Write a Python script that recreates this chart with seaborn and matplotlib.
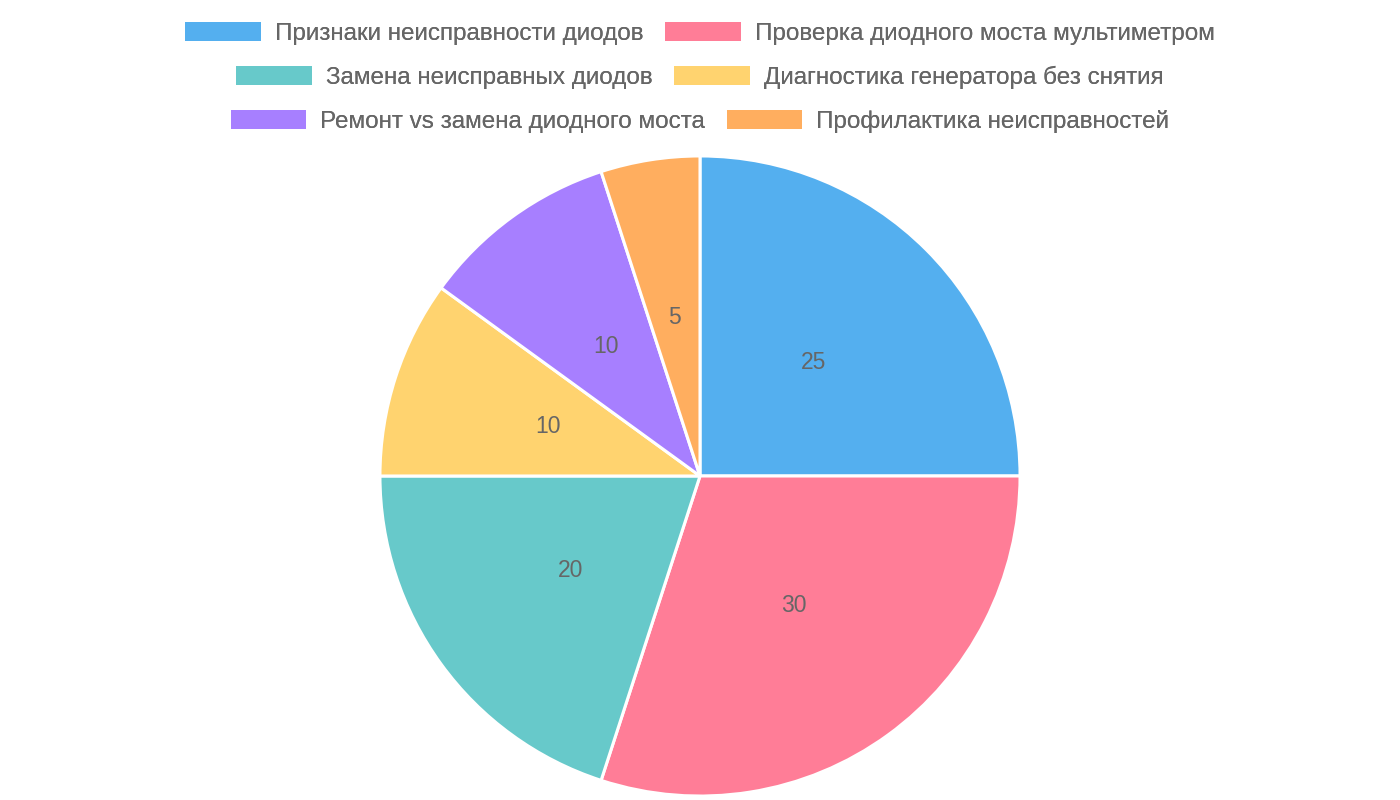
import seaborn as sns
import matplotlib.pyplot as plt
from matplotlib.patches import Patch

sns.set_theme(style="white")
plt.rcParams['font.family'] = ['Liberation Sans', 'DejaVu Sans']

labels = ['Признаки неисправности диодов', 'Проверка диодного моста мультиметром',
          'Замена неисправных диодов', 'Диагностика генератора без снятия',
          'Ремонт vs замена диодного моста', 'Профилактика неисправностей']
values = [25, 30, 20, 10, 10, 5]
colors = sns.color_palette(['#54AFEF', '#FF7D97', '#67C9CA', '#FFD36F', '#A77FFF', '#FFAE5F'])

fig = plt.figure(figsize=(14, 8), dpi=100)
ax = fig.add_axes([(700 - 321) / 1400, (800 - 797) / 800, 642 / 1400, 642 / 800])
wedges, texts = ax.pie(values, colors=colors, startangle=90, counterclock=False,
                       labels=[str(v) for v in values], labeldistance=0.5,
                       wedgeprops=dict(edgecolor='white', linewidth=2.2),
                       textprops=dict(color='#666666', fontsize=16.5))
for t in texts:
    t.set_horizontalalignment('center')
    t.set_verticalalignment('center')
ax.set_xlim(-1.003, 1.003)
ax.set_ylim(-1.003, 1.003)
ax.set_aspect('equal')

# Chart.js legend: each row is centred on its own
rows_y = [1 - 33.5 / 800, 1 - 77.5 / 800, 1 - 121.5 / 800]
for r, y in enumerate(rows_y):
    idx = [2 * r, 2 * r + 1]
    handles = [Patch(facecolor=colors[i], edgecolor='none') for i in idx]
    leg = fig.legend(handles, [labels[i] for i in idx], loc='center', bbox_to_anchor=(0.5, y),
                     ncol=2, frameon=False, fontsize=17.5, labelcolor='#666666',
                     handlelength=3.1, handleheight=0.82, handletextpad=0.58,
                     columnspacing=0.9, borderaxespad=0, borderpad=0)
    fig.add_artist(leg)

fig.savefig('out.png', dpi=100)
